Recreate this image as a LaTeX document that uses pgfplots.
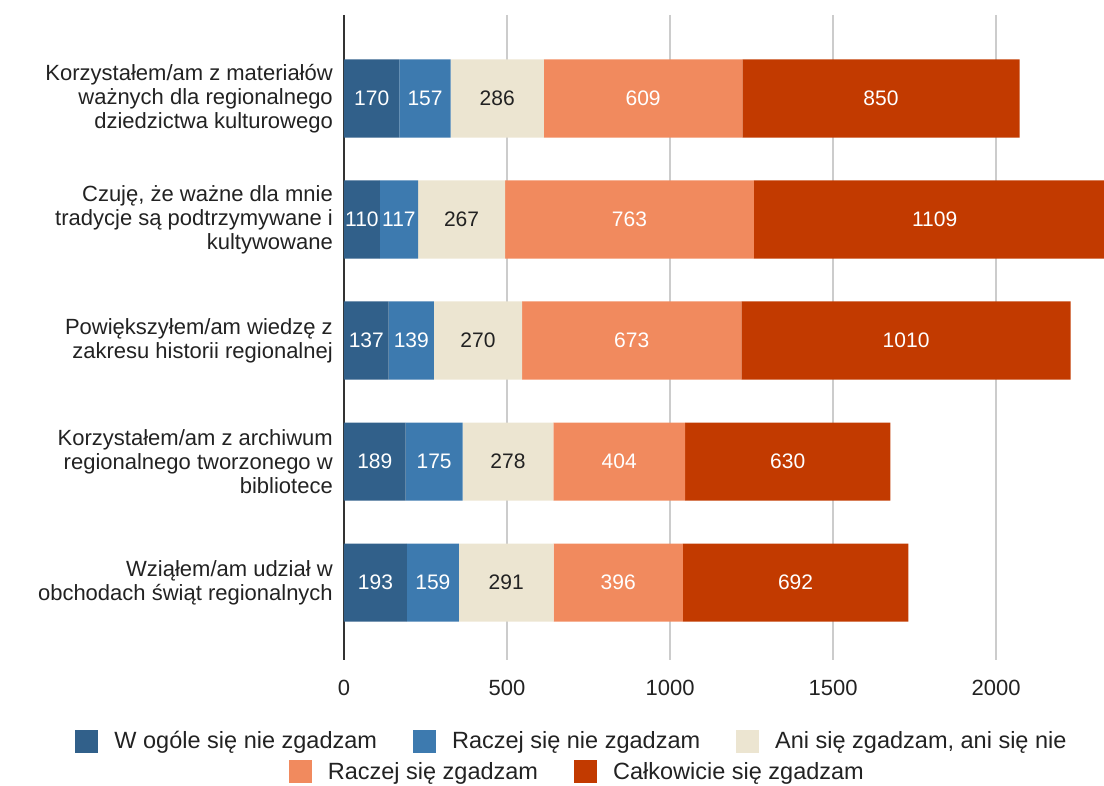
\documentclass[border=0pt]{standalone}
\usepackage{fontspec}
\setmainfont{Liberation Sans}
\usepackage{pgfplots}
\pgfplotsset{compat=1.18}
\usepackage{pgfplotstable}

\definecolor{c1}{RGB}{49,96,138}
\definecolor{c2}{RGB}{61,122,175}
\definecolor{c3}{RGB}{236,229,209}
\definecolor{c4}{RGB}{241,138,94}
\definecolor{c5}{RGB}{194,58,0}
\definecolor{txt}{RGB}{34,34,34}
\definecolor{gridc}{RGB}{204,204,204}

\pgfplotstableread{
y a b c d e
0 170 157 286 609 850
1 110 117 267 763 1109
2 137 139 270 673 1010
3 189 175 278 404 630
4 193 159 291 396 692
}\data
% label positions: middle of each segment
\pgfplotstablecreatecol[create col/expr={\thisrow{a}/2}]{ma}\data
\pgfplotstablecreatecol[create col/expr={\thisrow{a}+\thisrow{b}/2}]{mb}\data
\pgfplotstablecreatecol[create col/expr={\thisrow{a}+\thisrow{b}+\thisrow{c}/2}]{mc}\data
\pgfplotstablecreatecol[create col/expr={\thisrow{a}+\thisrow{b}+\thisrow{c}+\thisrow{d}/2}]{md}\data
\pgfplotstablecreatecol[create col/expr={\thisrow{a}+\thisrow{b}+\thisrow{c}+\thisrow{d}+\thisrow{e}/2}]{me}\data

\newcommand\labfont{\fontsize{22}{24}\selectfont}
\newcommand\legfont{\fontsize{23.5}{26}\selectfont}
\newcommand\valfont{\fontsize{21}{24}\selectfont}

\pgfplotsset{
  sqlegend/.style={
    legend image code/.code={\fill[##1] (0pt,-11.5pt) rectangle (23pt,11.5pt);}
  },
  geom/.style={
    at={(344pt,126pt)}, anchor=south west,
    width=760pt, height=645pt, scale only axis,
  },
  lab/.style={
    draw=none, mark=none, forget plot,
    nodes near coords, point meta=explicit symbolic,
    every node near coord/.append style={anchor=center, inner sep=0pt,
      font=\valfont, text=#1},
  },
}

\begin{document}
\begin{tikzpicture}
\path[use as bounding box] (0,0) rectangle (1104pt,786pt);
\begin{axis}[
  geom,
  xbar stacked, bar width=0.645,
  xmin=0, xmax=2331, ymin=-0.69, ymax=4.64, y dir=reverse,
  ytick={0,1,2,3,4},
  yticklabels={
    {Korzystałem/am z materiałów\\ważnych dla regionalnego\\dziedzictwa kulturowego},
    {Czuję, że ważne dla mnie\\tradycje są podtrzymywane i\\kultywowane},
    {Powiększyłem/am wiedzę z\\zakresu historii regionalnej},
    {Korzystałem/am z archiwum\\regionalnego tworzonego w\\bibliotece},
    {Wziąłem/am udział w\\obchodach świąt regionalnych}},
  yticklabel style={align=right, font=\labfont, text=txt, inner sep=0pt, xshift=-11pt},
  xtick={500,1000,1500,2000},
  extra x ticks={0}, extra x tick labels={0},
  extra x tick style={grid style={draw=black!80, line width=1.3pt}},
  xticklabel style={font=\labfont, text=txt, inner sep=0pt, yshift=-20pt},
  /pgf/number format/1000 sep={},
  /pgf/number format/assume math mode=true,
  xmajorgrids, grid style={draw=gridc, line width=1.3pt},
  axis line style={draw=none},
  major tick length=0pt,
  sqlegend,
  legend columns=3,
  legend style={draw=none, fill=none, font=\legfont, text=txt,
    at={(axis description cs:0.3,-0.1256)}, anchor=center,
    /tikz/every odd column/.append style={column sep=14pt},
    /tikz/every even column/.append style={column sep=34pt}},
]
\addplot[fill=c1, draw=none] table[x=a, y=y]{\data};
\addplot[fill=c2, draw=none] table[x=b, y=y]{\data};
\addplot[fill=c3, draw=none] table[x=c, y=y]{\data};
\addplot[fill=c4, draw=none] table[x=d, y=y]{\data};
\addplot[fill=c5, draw=none] table[x=e, y=y]{\data};
\legend{W ogóle się nie zgadzam, Raczej się nie zgadzam, {Ani się zgadzam, ani się nie}}
\end{axis}
% value labels, centred in each segment
\begin{axis}[
  geom, hide axis,
  xmin=0, xmax=2331, ymin=-0.69, ymax=4.64, y dir=reverse,
]
\addplot[lab=white] table[x=ma, y=y, meta=a]{\data};
\addplot[lab=white] table[x=mb, y=y, meta=b]{\data};
\addplot[lab=txt] table[x=mc, y=y, meta=c]{\data};
\addplot[lab=white] table[x=md, y=y, meta=d]{\data};
\addplot[lab=white] table[x=me, y=y, meta=e]{\data};
\end{axis}
\begin{axis}[
  geom, hide axis, xmin=0, xmax=1, ymin=0, ymax=1,
  sqlegend,
  legend columns=2,
  legend style={draw=none, fill=none, font=\legfont, text=txt,
    at={(axis description cs:0.307,-0.1736)}, anchor=center,
    /tikz/every odd column/.append style={column sep=14pt},
    /tikz/every even column/.append style={column sep=34pt}},
]
\addlegendimage{fill=c4, draw=none}
\addlegendentry{Raczej się zgadzam}
\addlegendimage{fill=c5, draw=none}
\addlegendentry{Całkowicie się zgadzam}
\end{axis}
\end{tikzpicture}
\end{document}
